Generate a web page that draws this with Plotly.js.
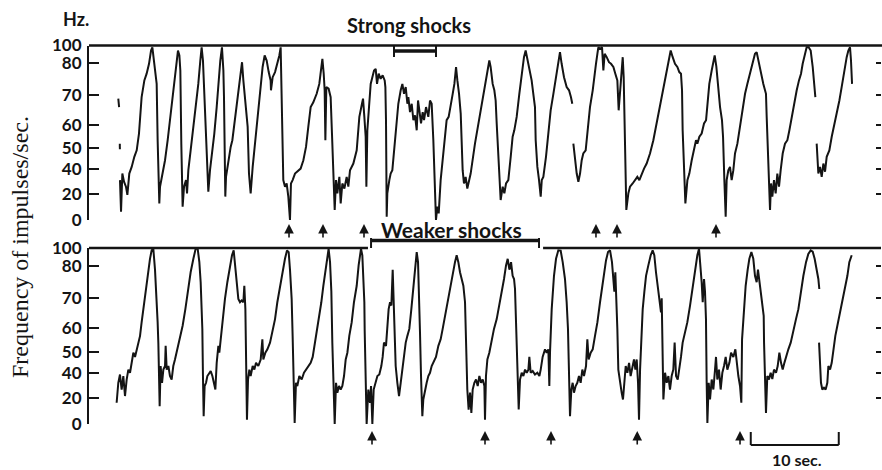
<!DOCTYPE html>
<html>
<head>
<meta charset="utf-8">
<script src="https://cdn.plot.ly/plotly-3.0.1.min.js"></script>
<style>
  html, body { margin: 0; padding: 0; background: #fff; }
  #chart { width: 882px; height: 470px; }
</style>
</head>
<body>
<div id="chart"></div>
<script>
// Rate-meter calibration: deflection (% of full scale) for each marked rate
const calibrationHz  = [0, 20, 40, 50, 60, 70, 80, 100];
const calibrationPos = [0, 14.9, 29.1, 41.1, 54.3, 71.4, 89.7, 100];

// Scale labels
const tickHz   = [0, 20, 40, 50, 60, 70, 80, 100];
const tickText = ['0', '20', '40', '50', '60', '70', '80', '100'];
const rightTickHz = [0, 20, 40, 50, 60, 70, 80];

// Upper record (strong shocks): pen sweeps as [time s, impulses/sec]
const upperSweeps = [
  [[3.33,68.9],[3.42,66.1]],
  [[3.50,52.0],[3.51,49.5]],
  [[3.52,31.2],[3.64,6.4],[3.79,36.5],[3.98,29.9],[4.20,25.9],[4.36,19.3],[4.58,36.5],[4.85,41.1],[5.15,45.9],[5.42,49.0],[5.68,56.4],[5.98,69.4],[6.29,74.7],[6.55,76.8],[6.82,79.9],[7.05,94.4],[7.20,98.0],[7.39,83.3],[7.58,75.7],[7.69,73.6],[7.80,53.5],[7.99,12.8],
   [8.07,25.9],[8.37,36.5],[8.64,44.3],[8.94,53.5],[9.20,61.7],[9.51,68.3],[9.77,75.7],[9.96,83.3],[10.11,94.4],[10.27,88.9],[10.38,77.8],[10.49,52.0],[10.64,10.3],
   [10.80,25.9],[11.02,31.2],[11.14,20.5],[11.29,39.2],[11.55,49.0],[11.86,59.3],[12.16,66.1],[12.42,73.6],[12.65,83.3],[12.80,98.0],[12.95,83.3],[13.14,69.4],[13.37,49.0],[13.56,21.9],
   [13.75,39.2],[13.98,47.5],[14.24,56.4],[14.51,66.1],[14.73,74.7],[14.92,83.3],[15.11,98.0],[15.27,77.8],[15.34,69.4],[15.42,49.0],[15.49,18.0],
   [15.57,33.8],[15.83,44.3],[16.10,50.6],[16.29,53.5],[16.52,60.6],[16.78,66.1],[17.08,73.6],[17.27,78.9],[17.39,81.4],[17.54,74.7],[17.73,68.3],[17.92,62.8],[18.03,59.3],[18.18,36.5],[18.37,20.5],
   [18.60,41.1],[18.86,52.0],[19.13,62.8],[19.43,71.6],[19.73,78.9],[19.96,88.9],[20.19,83.3],[20.42,77.3],[20.64,74.7],[20.68,71.6],[20.87,75.7],[21.14,77.3],[21.40,79.9],[21.63,88.9],[21.78,98.0],[21.89,70.5],[22.01,49.0],[22.08,31.2],[22.27,25.9],[22.46,28.5],[22.65,18.0],[22.84,0.0],[22.95,28.5],
   [23.14,31.2],[23.41,36.5],[23.79,39.2],[24.05,40.3],[24.36,44.3],[24.66,50.6],[24.92,59.3],[25.19,66.1],[25.49,67.7],[25.87,70.5],[26.17,73.6],[26.40,79.9],[26.52,85.2],[26.67,76.8],[26.78,71.6],[26.86,53.5],[26.97,72.6],[27.23,72.1],[27.46,69.4],[27.61,56.4],[27.77,31.2],[27.92,7.7],
   [28.07,31.2],[28.22,20.5],[28.45,33.8],[28.60,12.8],[28.79,28.5],[29.02,24.4],[29.28,33.8],[29.47,25.9],[29.66,39.2],[30.04,42.7],[30.42,49.0],[30.72,62.8],[31.02,67.2],[31.14,68.9],[31.29,62.8],[31.44,55.0],[31.52,25.9],[31.63,57.8],[31.82,66.1],[32.01,73.6],[32.20,75.7],[32.39,77.8],[32.58,78.3],[32.73,73.6],[32.92,76.8],[33.14,75.2],[33.37,76.3],[33.60,74.7],[33.68,72.6],[33.75,61.7],[33.83,2.6],
   [33.90,20.5],[34.13,31.2],[34.28,36.5],[34.47,39.2],[34.66,49.0],[34.89,59.3],[35.15,67.2],[35.42,71.6],[35.61,73.6],[35.80,70.5],[35.99,72.6],[36.18,67.2],[36.29,69.4],[36.48,64.4],[36.67,67.2],[36.86,61.7],[37.05,63.3],[37.24,57.8],[37.39,68.3],[37.54,65.0],[37.73,60.6],[37.92,64.4],[38.07,61.7],[38.30,66.1],[38.56,62.8],[38.75,68.3],[38.94,67.2],[39.13,53.5],[39.32,18.0],[39.43,0.0],[39.58,10.3],[39.74,5.1],[39.96,31.2],
   [40.27,49.0],[40.53,57.8],[40.64,61.7],[40.87,62.8],[41.10,66.1],[41.33,70.5],[41.52,73.6],[41.71,78.9],[41.86,74.7],[42.05,70.5],[42.24,63.9],[42.35,53.5],[42.46,39.2],[42.61,28.5],[42.80,33.8],[42.99,24.4],[43.18,31.2],[43.37,36.5],
   [43.86,52.0],[44.24,60.6],[44.62,66.1],[45.00,73.6],[45.27,77.8],[45.49,83.3],[45.64,78.9],[45.87,73.6],[46.06,71.6],[46.21,68.3],[46.33,60.6],[46.63,31.2],[46.78,15.4],[47.01,25.9],[47.20,20.5],[47.39,28.5],[47.65,31.2],
   [47.92,45.9],[48.14,55.0],[48.33,57.8],[48.60,62.8],[48.90,70.5],[49.17,76.8],[49.43,87.0],[49.62,94.4],[49.81,85.2],[50.04,77.8],[50.30,74.7],[50.49,70.5],[50.68,66.1],[50.76,53.5],[50.95,41.1],[51.14,31.2],[51.33,18.0],[51.45,31.2],
   [51.63,33.8],[51.93,45.9],[52.20,56.4],[52.46,65.0],[52.77,70.5],[53.07,75.7],[53.33,83.3],[53.52,92.6],[53.71,79.9],[53.98,75.7],[54.28,72.6],[54.55,71.6],[54.77,69.4],[54.92,67.2]],
  [[55.04,52.0],[55.23,44.3],[55.42,36.5],[55.61,29.9],[55.80,36.5],[55.99,44.3],[56.17,47.5],[56.44,49.0],[56.63,56.4],[56.93,66.1],[57.24,71.6],[57.43,76.8],[57.61,79.9],[57.77,90.8],[57.88,98.0],[58.07,96.3],[58.30,98.0],[58.45,77.8],[58.60,90.8],[58.83,87.0],[59.09,81.4],[59.32,79.9],[59.59,78.9],[59.81,76.8],[60.04,74.7],[60.19,65.0],[60.34,71.6],[60.49,76.8],[60.65,87.0],[60.76,75.7],[60.83,63.9],[60.95,50.6],[61.06,7.7],
   [61.29,20.5],[61.48,25.9],[61.78,28.5],[62.05,31.2],[62.31,33.8],[62.54,31.2],[62.80,36.5],[63.07,40.3],[63.37,42.7],[63.75,47.5],[64.13,53.5],[64.51,60.6],[64.89,66.1],[65.27,71.6],[65.65,77.8],[65.95,87.0],[66.10,94.4],[66.33,87.0],[66.59,79.9],[66.86,78.9],[67.08,77.3],[67.27,76.8],[67.39,71.6],[67.46,57.8],[67.62,31.2],[67.77,12.8],
   [68.00,31.2],[68.22,36.5],[68.49,44.3],[68.75,49.0],[68.98,53.5],[69.13,52.0],[69.36,55.0],[69.62,56.4],[69.89,60.6],[70.12,61.7],[70.27,66.1],[70.49,73.6],[70.76,77.8],[70.95,83.3],[71.10,88.9],[71.29,79.0],[71.44,74.7],[71.55,70.5],[71.71,66.1],[71.93,61.7],[72.05,55.0],[72.20,31.2],[72.35,2.6],
   [72.46,31.2],[72.65,39.2],[72.84,41.1],[73.03,31.2],[73.22,39.2],[73.41,47.5],[73.68,52.0],[73.98,59.3],[74.28,66.1],[74.55,70.5],[74.81,73.6],[75.11,76.8],[75.42,79.9],[75.68,90.8],[75.87,92.6],[76.06,83.3],[76.25,77.8],[76.44,75.7],[76.63,73.6],[76.82,71.6],[76.93,70.5],[77.01,62.8],[77.12,52.0],[77.27,31.2],[77.39,7.7],
   [77.50,28.5],[77.65,18.0],[77.84,31.2],[78.03,20.5],[78.22,36.5],[78.41,25.9],[78.60,39.2],[78.83,47.5],[79.09,52.0],[79.36,53.5],[79.59,57.8],[79.85,62.8],[80.11,67.2],[80.42,71.6],[80.68,74.7],[80.91,76.8],[81.10,79.9],[81.33,90.8],[81.55,98.0],[81.78,98.0],[82.01,94.4],[82.24,78.9],[82.43,73.6],[82.54,69.4]],
  [[82.69,52.0],[82.77,45.9],[82.88,36.5],[83.07,41.1],[83.26,33.8],[83.45,42.7],[83.64,38.0],[83.83,45.9],[84.13,49.0],[84.40,55.0],[84.66,59.3],[84.96,63.9],[85.27,68.3],[85.53,72.6],[85.80,77.8],[86.10,87.0],[86.29,94.4],[86.48,98.0],[86.59,83.3],[86.71,73.6]]
];

// Lower record (weaker shocks)
const lowerSweeps = [
  [[3.14,16.2],[3.33,32.0],[3.52,38.6],[3.71,26.6],[3.90,37.4],[4.09,21.4],[4.28,34.6],[4.47,41.5],[4.66,40.0],[4.85,44.7],[5.04,49.5],[5.23,47.5],[5.42,51.0],[5.61,53.9],[5.80,56.8],[5.98,62.0],[6.17,66.4],[6.36,70.8],[6.55,75.0],[6.74,78.1],[6.93,88.1],[7.12,97.4],[7.31,99.2],[7.50,78.9],[7.69,69.8],[7.80,62.0],[7.88,53.9],[7.95,41.5],[8.03,13.6],
   [8.14,43.2],[8.30,32.0],[8.45,41.5],[8.64,43.2],[8.71,52.5],[8.83,41.5],[9.02,43.2],[9.20,37.4],[9.39,34.6],[9.58,43.2],[9.77,46.3],[10.04,51.0],[10.34,55.3],[10.64,60.9],[10.95,66.4],[11.25,72.9],[11.55,78.1],[11.86,88.1],[12.12,99.2],[12.35,99.2],[12.54,84.4],[12.69,75.0],[12.77,69.8],[12.88,59.8],[12.95,37.4],[13.03,5.9],
   [13.14,29.4],[13.30,32.0],[13.45,37.4],[13.64,40.0],[13.83,40.8],[14.02,37.4],[14.20,32.0],[14.36,26.6],[14.51,44.7],[14.70,52.5],[14.81,49.5],[14.96,55.3],[15.19,62.0],[15.45,69.8],[15.72,75.0],[16.02,80.8],[16.25,92.0],[16.44,97.4],[16.59,80.8],[16.78,73.9],[16.97,69.8],[17.16,68.7],[17.35,69.3],[17.54,68.7],[17.65,73.9],[17.77,66.4],[17.80,58.7],[17.88,37.4],[17.95,3.3],
   [18.07,34.6],[18.22,41.5],[18.37,37.4],[18.60,43.2],[18.79,41.5],[18.98,44.7],[19.24,43.2],[19.51,46.3],[19.70,55.3],[19.81,46.3],[20.04,49.5],[20.27,51.0],[20.57,53.9],[20.87,58.7],[21.14,63.1],[21.40,68.7],[21.70,73.9],[22.01,78.1],[22.27,88.1],[22.50,97.4],[22.69,95.5],[22.84,78.9],[23.03,69.8],[23.14,56.8],[23.26,32.0],[23.37,0.8],
   [23.52,32.0],[23.67,29.4],[23.90,37.4],[24.17,34.6],[24.43,40.0],[24.66,41.5],[24.92,43.2],[25.19,44.7],[25.42,47.5],[25.68,53.9],[25.95,58.7],[26.17,63.1],[26.40,68.7],[26.63,73.9],[26.86,78.9],[27.08,92.0],[27.23,99.2],[27.39,84.4],[27.54,72.1],[27.65,53.9],[27.77,29.4],[27.92,0.0],
   [28.07,32.0],[28.22,24.1],[28.41,29.4],[28.60,26.6],[28.79,29.4],[28.98,37.4],[29.17,46.3],[29.36,49.5],[29.58,56.8],[29.85,62.0],[30.11,68.7],[30.42,73.9],[30.64,80.8],[30.80,92.0],[30.91,99.2],[31.06,92.0],[31.18,77.0],[31.29,68.7],[31.33,58.7],[31.40,44.7],[31.55,0.0],
   [31.74,26.6],[31.93,16.2],[32.05,29.4],[32.20,0.0],[32.35,26.6],[32.54,32.0],[32.77,37.4],[32.99,38.6],[33.22,43.2],[33.37,47.5],[33.52,53.9],[33.75,52.5],[33.90,58.7],[34.05,66.4],[34.21,68.7],[34.36,67.6],[34.51,78.9],[34.58,73.9],[34.70,62.0],[34.85,43.2],[35.04,32.0],[35.23,21.4],
   [35.42,32.0],[35.61,41.5],[35.80,46.3],[35.99,53.9],[36.18,56.8],[36.40,59.8],[36.63,66.4],[36.86,73.9],[37.05,80.8],[37.24,95.5],[37.39,84.4],[37.50,72.1],[37.61,58.7],[37.73,37.4],[37.88,5.9],
   [37.99,18.7],[38.18,26.6],[38.37,32.0],[38.56,37.4],[38.75,40.0],[38.94,43.2],[39.13,44.7],[39.43,47.5],[39.70,52.5],[39.96,55.3],[40.19,59.8],[40.46,64.2],[40.72,68.7],[41.02,73.9],[41.33,78.1],[41.59,84.4],[41.78,92.0],[41.97,84.4],[42.16,78.1],[42.35,76.0],[42.54,73.9],[42.73,68.7],[42.84,53.9],[42.99,26.6],[43.14,11.0],
   [43.30,24.1],[43.45,8.5],[43.60,26.6],[43.79,32.0],[43.98,34.6],[44.17,29.4],[44.36,37.4],[44.55,32.0],[44.74,34.6],[44.93,29.4],[45.00,3.3],[45.11,37.4],[45.27,46.3],[45.49,49.5],[45.76,55.3],[46.02,59.8],[46.33,63.1],[46.63,67.6],[46.89,72.1],[47.16,76.0],[47.39,80.8],[47.58,88.1],[47.77,78.9],[47.96,84.4],[48.14,77.0],[48.30,76.0],[48.41,72.9],[48.52,64.2],[48.68,46.3],[48.83,11.0],
   [48.98,34.6],[49.17,40.0],[49.36,37.4],[49.55,41.5],[49.74,40.0],[49.93,41.5],[50.04,47.5],[50.19,40.0],[50.42,40.8],[50.68,38.6],[50.95,40.0],[51.18,37.4],[51.33,41.5],[51.55,47.5],[51.82,51.0],[52.01,49.5],[52.20,51.0],[52.31,29.4],[52.39,50.0],[52.58,66.4],[52.84,77.0],[53.07,88.1],[53.33,97.4],[53.60,97.0],[53.83,84.4],[54.09,76.0],[54.28,68.7],[54.43,59.8],[54.51,46.3],[54.58,26.6],[54.66,5.9],
   [54.81,26.6],[54.96,32.0],[55.11,24.1],[55.30,29.4],[55.49,32.0],[55.68,37.4],[55.87,32.0],[56.06,41.5],[56.25,37.4],[56.48,43.2],[56.63,55.3],[56.78,46.3],[57.01,49.5],[57.24,51.0],[57.50,56.8],[57.77,62.0],[58.07,68.7],[58.26,72.1],[58.52,78.1],[58.75,86.3],[58.98,95.5],[59.21,97.4],[59.43,84.4],[59.59,76.0],[59.70,72.1],[59.81,78.1],[59.93,70.8],[60.04,59.8],[60.15,41.5],
   [60.34,32.0],[60.53,24.1],[60.68,18.7],[60.84,32.0],[60.99,43.2],[61.18,40.0],[61.37,44.7],[61.55,37.4],[61.74,43.2],[61.93,46.3],[62.09,41.5],[62.24,46.3],[62.39,32.0],[62.50,3.3],[62.62,41.5],[62.77,55.3],[62.92,66.4],[63.11,72.1],[63.30,77.0],[63.56,80.8],[63.83,92.0],[64.05,97.4],[64.24,92.0],[64.43,78.1],[64.62,73.9],[64.81,68.7],[65.00,65.3],[65.08,70.0],[65.12,60.9],[65.19,41.5],[65.27,18.7],
   [65.46,40.0],[65.65,32.0],[65.84,37.4],[66.02,26.6],[66.21,37.4],[66.40,41.5],[66.55,53.9],[66.71,37.4],[66.90,34.6],[67.08,41.5],[67.27,47.5],[67.46,53.9],[67.73,58.7],[67.99,62.0],[68.30,67.6],[68.60,73.9],[68.87,78.9],[69.13,92.0],[69.32,99.2],[69.47,84.4],[69.62,75.0],[69.74,68.7],[69.89,76.0],[70.00,72.1],[70.11,63.1],[70.19,32.0],[70.27,0.8],
   [70.42,32.0],[70.57,18.7],[70.76,34.6],[70.95,26.6],[71.14,41.5],[71.25,47.5],[71.40,34.6],[71.59,41.5],[71.78,26.6],[71.97,40.0],[72.16,43.2],[72.35,47.5],[72.54,41.5],[72.77,44.7],[72.96,49.5],[73.22,47.5],[73.45,51.0],[73.60,45.0],[73.79,37.4],[73.98,29.4],[74.13,16.2],[74.21,55.3],[74.43,66.4],[74.62,73.9],[74.85,78.9],[75.04,88.1],[75.27,95.5],[75.49,88.1],[75.68,77.0],[75.87,75.0],[76.02,78.9],[76.18,75.5],[76.36,72.9],[76.55,68.7],[76.67,64.2],[76.71,53.9],[76.82,32.0],[76.93,8.5],
   [77.08,37.4],[77.27,34.6],[77.46,40.0],[77.65,35.0],[77.84,41.5],[78.07,40.0],[78.26,43.2],[78.45,49.5],[78.64,44.7],[78.83,41.5],[79.02,44.7],[79.20,47.5],[79.47,51.0],[79.74,53.9],[80.04,59.8],[80.34,63.1],[80.61,66.4],[80.87,72.1],[81.18,77.0],[81.48,84.4],[81.74,93.4],[82.01,97.4],[82.24,96.0],[82.46,88.1],[82.69,78.9],[82.88,76.0],[82.99,72.9]],
  [[82.96,53.9],[83.07,41.5],[83.18,32.0],[83.33,26.6],[83.52,28.0],[83.71,26.6],[83.90,32.0],[84.02,43.2],[84.21,41.5],[84.40,44.7],[84.58,51.0],[84.81,56.8],[85.04,60.9],[85.34,65.3],[85.65,68.7],[85.91,72.9],[86.18,77.0],[86.40,84.4],[86.67,92.0]]
];

// Times of the marked shocks (arrows), s
const upperShockTimes = [22.73, 26.59, 31.25, 57.61, 60.0, 71.25];
const lowerShockTimes = [32.16, 45.0, 52.5, 62.3, 73.98];

// Stimulation periods and time marker, s
const strongPeriod = [34.66, 39.43];
const weakerPeriod = [32.05, 51.14];
const timeMarker   = [75.2, 85.2];

// ---------------------------------------------------------------
const INK = '#141414';
const W = 882, H = 470;
const px = v => v / W;            // horizontal pixel -> paper
const py = v => 1 - v / H;        // vertical pixel -> paper

function toScale(hz) {
  for (let i = 0; i < calibrationHz.length - 1; i++) {
    if (hz <= calibrationHz[i + 1]) {
      const f = (hz - calibrationHz[i]) / (calibrationHz[i + 1] - calibrationHz[i]);
      return calibrationPos[i] + f * (calibrationPos[i + 1] - calibrationPos[i]);
    }
  }
  return 100;
}

function sweepsToXY(sweeps) {
  const x = [], y = [];
  sweeps.forEach((s, k) => {
    if (k > 0) { x.push(null); y.push(null); }
    s.forEach(p => { x.push(p[0]); y.push(toScale(p[1])); });
  });
  return { x, y };
}

const up = sweepsToXY(upperSweeps);
const lo = sweepsToXY(lowerSweeps);

const traceLine = { color: INK, width: 2 };
const data = [
  { x: up.x, y: up.y, mode: 'lines', line: traceLine, xaxis: 'x', yaxis: 'y', hoverinfo: 'skip' },
  { x: lo.x, y: lo.y, mode: 'lines', line: traceLine, xaxis: 'x2', yaxis: 'y2', hoverinfo: 'skip' },
  { x: [], y: [], xaxis: 'x', yaxis: 'y3', hoverinfo: 'skip' },
  { x: [], y: [], xaxis: 'x2', yaxis: 'y4', hoverinfo: 'skip' }
];

const X_DOMAIN = [px(89), px(881)];
const xAxis = { domain: X_DOMAIN, range: [0, 90], visible: false, fixedrange: true };

const leftAxis = {
  range: [0, 100],
  tickmode: 'array',
  tickvals: tickHz.map(toScale),
  ticktext: tickText,
  ticks: 'inside', ticklen: 10, tickwidth: 2, tickcolor: INK,
  showline: true, linewidth: 2, linecolor: INK,
  showgrid: false, zeroline: false, fixedrange: true,
  ticklabelstandoff: 2,
  tickfont: { family: 'Lato, "Open Sans", sans-serif', size: 17, color: INK, weight: 'bold' }
};
const rightAxis = {
  range: [0, 100], side: 'right',
  tickmode: 'array', tickvals: rightTickHz.map(toScale),
  showticklabels: false,
  ticks: 'inside', ticklen: 5, tickwidth: 2, tickcolor: INK,
  showline: false, showgrid: false, zeroline: false, fixedrange: true
};

const UPPER_DOMAIN = [py(220), py(45.5)];
const LOWER_DOMAIN = [py(424), py(248)];

function hline(xref, x0, x1, yPix, width) {
  return { type: 'line', xref, yref: 'paper', x0, x1, y0: py(yPix), y1: py(yPix),
           line: { color: INK, width } };
}
function vline(xref, x, yTop, yBot, width) {
  return { type: 'line', xref, yref: 'paper', x0: x, x1: x, y0: py(yTop), y1: py(yBot),
           line: { color: INK, width } };
}

const shapes = [
  // full-scale (100) line, upper record
  hline('paper', px(89), 1, 45.5, 2.5),
  // full-scale line, lower record, interrupted by the stimulus bar
  hline('x2', 0, 31.7, 248, 2.5),
  hline('x2', 51.6, 90.2, 248, 2.5),
  // strong-shock bar
  hline('x', strongPeriod[0], strongPeriod[1], 51, 3.5),
  vline('x', strongPeriod[0], 45.5, 57, 2),
  vline('x', strongPeriod[1], 45.5, 57, 2),
  // weaker-shock bar
  hline('x2', weakerPeriod[0], weakerPeriod[1], 240.5, 3.5),
  vline('x2', weakerPeriod[0], 238, 248, 2),
  vline('x2', weakerPeriod[1], 238, 248, 2),
  // 10 s time marker
  hline('x2', timeMarker[0], timeMarker[1], 445, 2),
  vline('x2', timeMarker[0], 432, 445, 2),
  vline('x2', timeMarker[1], 432, 445, 2)
];

const sans = 'Lato, "Open Sans", sans-serif';
function label(text, xPix, yPix, size, weight, extra) {
  return Object.assign({
    text, xref: 'paper', yref: 'paper', x: px(xPix), y: py(yPix),
    xanchor: 'center', yanchor: 'middle', showarrow: false,
    font: { family: sans, size, color: INK, weight }
  }, extra || {});
}

const annotations = [
  label('Hz.', 76, 19, 18, 'bold'),
  label('Strong shocks', 409, 25, 20, 'bold'),
  label('Weaker shocks', 451, 229, 21, 'bold'),
  label('10 sec.', 797, 459, 16, 'bold'),
  label('Frequency of impulses/sec.', 20, 247, 24, 'normal',
        { textangle: -90, font: { family: '"Liberation Serif", "DejaVu Serif", serif', size: 24, color: INK } })
];

function shockArrow(t, xref, tipPix) {
  return { x: t, xref, y: py(tipPix), yref: 'paper', text: '', showarrow: true,
           ax: 0, ay: 15, arrowhead: 2, arrowsize: 1.2, arrowwidth: 1.6, arrowcolor: INK };
}
upperShockTimes.forEach(t => annotations.push(shockArrow(t, 'x', 224)));
lowerShockTimes.forEach(t => annotations.push(shockArrow(t, 'x2', 431)));

const layout = {
  width: W, height: H,
  margin: { l: 0, r: 0, t: 0, b: 0, pad: 0 },
  paper_bgcolor: '#ffffff', plot_bgcolor: 'rgba(0,0,0,0)',
  showlegend: false,
  xaxis:  Object.assign({}, xAxis, { anchor: 'y' }),
  xaxis2: Object.assign({}, xAxis, { anchor: 'y2' }),
  yaxis:  Object.assign({}, leftAxis, { domain: UPPER_DOMAIN, anchor: 'x' }),
  yaxis2: Object.assign({}, leftAxis, { domain: LOWER_DOMAIN, anchor: 'x2' }),
  yaxis3: Object.assign({}, rightAxis, { overlaying: 'y', anchor: 'x' }),
  yaxis4: Object.assign({}, rightAxis, { overlaying: 'y2', anchor: 'x2' }),
  shapes, annotations
};

Plotly.newPlot('chart', data, layout, { staticPlot: true, displayModeBar: false });
</script>
</body>
</html>
